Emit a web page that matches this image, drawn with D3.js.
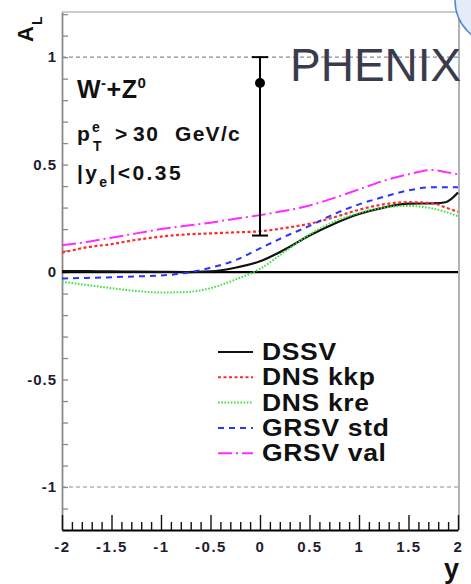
<!DOCTYPE html>
<html>
<head>
<meta charset="utf-8">
<script src="https://cdn.jsdelivr.net/npm/d3@7"></script>
<style>
  html, body { margin: 0; padding: 0; background: #fff; }
  svg { display: block; font-family: "Liberation Sans", Arial, Helvetica, sans-serif; }
</style>
</head>
<body>
<svg id="chart" width="471" height="584"></svg>
<script>
// Electron rapidity grid shared by every theory curve
const rapidity = [-2, -1.75, -1.5, -1.25, -1, -0.75, -0.5, -0.25, 0, 0.25, 0.5, 0.75, 1, 1.25, 1.5, 1.75, 1.875, 2];

// Predicted single-spin asymmetry A_L for each polarized PDF set
const dssv    = [0.005, 0.004, 0.003, 0.002, 0.001, 0.0, 0.003, 0.02, 0.05, 0.105, 0.17, 0.225, 0.27, 0.30, 0.318, 0.32, 0.325, 0.37];
const dnsKkp  = [0.09, 0.115, 0.13, 0.15, 0.165, 0.175, 0.18, 0.185, 0.19, 0.205, 0.225, 0.255, 0.29, 0.315, 0.325, 0.32, 0.30, 0.28];
const dnsKre  = [-0.045, -0.06, -0.075, -0.088, -0.095, -0.093, -0.075, -0.035, 0.015, 0.095, 0.175, 0.235, 0.275, 0.30, 0.308, 0.295, 0.28, 0.26];
const grsvStd = [-0.03, -0.027, -0.024, -0.02, -0.016, -0.004, 0.02, 0.055, 0.11, 0.165, 0.215, 0.27, 0.315, 0.35, 0.38, 0.395, 0.395, 0.395];
const grsvVal = [0.125, 0.14, 0.16, 0.18, 0.2, 0.215, 0.23, 0.248, 0.265, 0.285, 0.31, 0.345, 0.385, 0.425, 0.455, 0.475, 0.465, 0.455];

const seriesNames = ["DSSV", "DNS kkp", "DNS kre", "GRSV std", "GRSV val"];
const seriesValues = [dssv, dnsKkp, dnsKre, grsvStd, grsvVal];

// Measured W-+Z0 point at mid-rapidity
const measY = [0];
const measAL = [0.88];
const measErrLow = [0.71];
const measErrHigh = [0.12];

// Axis tick labels
const xTickLabels = [-2, -1.5, -1, -0.5, 0, 0.5, 1, 1.5, 2];
const yTickLabels = [-1, -0.5, 0, 0.5, 1];

// Line styling per curve
const styles = [
  { color: "#111111", dash: null,        width: 2.2 },
  { color: "#ff2a2a", dash: "3,2.5",     width: 2.2 },
  { color: "#3ee03e", dash: "1.6,1.6",   width: 2.0 },
  { color: "#2a34ff", dash: "6,5",       width: 2.0 },
  { color: "#ff2cff", dash: "14,4,2,4",  width: 2.0 }
];

const svg = d3.select("#chart");
svg.append("rect").attr("width", 471).attr("height", 584).attr("fill", "#fff");

const plotLeft = 62, plotRight = 458, plotTop = 12, plotBottom = 530;
const x = d3.scaleLinear().domain([-2, 2]).range([plotLeft, plotRight]);
const y = d3.scaleLinear().domain([-1.2, 1.21]).range([plotBottom, plotTop]);

// Widen a text element's glyphs by a factor (wide ROOT-style lettering)
function widen(sel, factor) {
  sel.each(function () {
    const w = this.getComputedTextLength();
    d3.select(this).attr("textLength", w * factor).attr("lengthAdjust", "spacingAndGlyphs");
  });
}

// Frame: top and right edges
svg.append("line").attr("x1", plotLeft).attr("x2", plotRight + 1).attr("y1", plotTop).attr("y2", plotTop)
  .attr("stroke", "#9a9a9a").attr("stroke-width", 1.2);
svg.append("line").attr("x1", plotRight + 1).attr("x2", plotRight + 1).attr("y1", plotTop).attr("y2", plotBottom)
  .attr("stroke", "#9a9a9a").attr("stroke-width", 1.5);

// Dashed reference lines at the physical limits +-1
[1, -1].forEach(v => {
  svg.append("line").attr("x1", plotLeft).attr("x2", plotRight).attr("y1", y(v)).attr("y2", y(v))
    .attr("stroke", "#8c8c8c").attr("stroke-width", 1.2).attr("stroke-dasharray", "4,3");
});

// Y axis: inward ticks every 0.1, labels every 0.5
const yMinor = d3.range(-12, 13).map(i => i / 10);
const isHalf = d => Math.abs(d * 2 - Math.round(d * 2)) < 1e-9;
const yAxis = d3.axisLeft(y).tickValues(yMinor).tickSizeInner(-6).tickSizeOuter(0).tickPadding(5)
  .tickFormat(d => yTickLabels.some(v => Math.abs(v - d) < 1e-9) ? String(d) : "");
const gy = svg.append("g").attr("transform", `translate(${plotLeft},0)`).call(yAxis);
gy.select(".domain").attr("stroke", "#8a8a8a").attr("stroke-width", 1.8);
gy.selectAll(".tick line").attr("stroke", "#8a8a8a").attr("stroke-width", 1.3);
gy.selectAll(".tick text").attr("fill", "#1e1e30").attr("font-size", 15).attr("font-weight", "bold")
  .attr("letter-spacing", 1).attr("font-family", "Liberation Sans, Arial, sans-serif");

// X axis: upward ticks every 0.1, longer every 0.5
const xMinor = d3.range(-20, 21).map(i => i / 10);
const xAxis = d3.axisBottom(x).tickValues(xMinor).tickSizeInner(-8).tickSizeOuter(0).tickPadding(11)
  .tickFormat(d => xTickLabels.some(v => Math.abs(v - d) < 1e-9) ? String(d) : "");
const gx = svg.append("g").attr("transform", `translate(0,${plotBottom})`).call(xAxis);
gx.select(".domain").attr("stroke", "#000").attr("stroke-width", 2.2);
gx.selectAll(".tick line").attr("stroke", "#111").attr("stroke-width", 1.4)
  .attr("y2", d => isHalf(d) ? -15 : -8);
gx.selectAll(".tick text").attr("fill", "#1e1e30").attr("font-size", 15).attr("font-weight", "bold")
  .attr("letter-spacing", 1.5).attr("font-family", "Liberation Sans, Arial, sans-serif");

// Zero line
svg.append("line").attr("x1", plotLeft).attr("x2", plotRight).attr("y1", y(0)).attr("y2", y(0))
  .attr("stroke", "#000").attr("stroke-width", 2.3);

// Theory curves
const line = d3.line().x(d => x(d[0])).y(d => y(d[1])).curve(d3.curveMonotoneX);
seriesValues.forEach((vals, i) => {
  const pts = rapidity.map((r, k) => [r, vals[k]]);
  svg.append("path").datum(pts).attr("d", line).attr("fill", "none")
    .attr("stroke", styles[i].color).attr("stroke-width", styles[i].width)
    .attr("stroke-dasharray", styles[i].dash);
});

// Data point with asymmetric error bar
measY.forEach((r, i) => {
  const cx = x(r);
  const yLo = y(measAL[i] - measErrLow[i]), yHi = y(measAL[i] + measErrHigh[i]);
  const g = svg.append("g").attr("stroke", "#000").attr("stroke-width", 2);
  g.append("line").attr("x1", cx).attr("x2", cx).attr("y1", yLo).attr("y2", yHi);
  g.append("line").attr("x1", cx - 8).attr("x2", cx + 8).attr("y1", yLo).attr("y2", yLo);
  g.append("line").attr("x1", cx - 8).attr("x2", cx + 8).attr("y1", yHi).attr("y2", yHi);
  svg.append("circle").attr("cx", cx).attr("cy", y(measAL[i])).attr("r", 5).attr("fill", "#000");
});

// Legend
const legend = svg.append("g");
seriesNames.forEach((name, i) => {
  const cy = 352 + i * 25.3;
  legend.append("line").attr("x1", 218).attr("x2", 253).attr("y1", cy).attr("y2", cy)
    .attr("stroke", styles[i].color).attr("stroke-width", 2)
    .attr("stroke-dasharray", styles[i].dash);
  const t = legend.append("text").attr("x", 262).attr("y", cy + 8).text(name)
    .attr("font-size", 23).attr("font-weight", "bold").attr("letter-spacing", 0.6).attr("fill", "#111");
  widen(t, 1.15);
});

// Process and kinematic cuts
const t1 = svg.append("text").attr("x", 77).attr("y", 98).attr("font-size", 25)
  .attr("font-weight", "bold").attr("fill", "#111").attr("letter-spacing", 0.5);
t1.append("tspan").text("W");
t1.append("tspan").text("-").attr("font-size", 15).attr("dy", -10);
t1.append("tspan").text("+Z").attr("dy", 10);
t1.append("tspan").text("0").attr("font-size", 15).attr("dy", -10);

const t2 = svg.append("text").attr("x", 77).attr("y", 141).attr("font-size", 21)
  .attr("font-weight", "bold").attr("fill", "#111");
t2.append("tspan").text("p");
t2.append("tspan").text("e").attr("font-size", 14).attr("x", 92).attr("dy", -9);
t2.append("tspan").text("T").attr("font-size", 14).attr("x", 93).attr("dy", 19);
t2.append("tspan").text(">").attr("x", 115).attr("dy", -10);
t2.append("tspan").text("30").attr("x", 133).attr("letter-spacing", 1.5);
t2.append("tspan").text("GeV/c").attr("x", 175).attr("letter-spacing", 1.3);

const t3 = svg.append("text").attr("x", 77).attr("y", 180).attr("font-size", 21)
  .attr("font-weight", "bold").attr("fill", "#111").attr("letter-spacing", 2.4);
t3.append("tspan").text("|y");
t3.append("tspan").text("e").attr("font-size", 14).attr("dy", 7);
t3.append("tspan").text("|<0.35").attr("dy", -7);

// Experiment tag
svg.append("text").attr("x", 290).attr("y", 81).text("PHENIX")
  .attr("font-size", 46).attr("fill", "#3b3b4d");

// Axis titles
const yt = svg.append("text").attr("transform", "translate(33,42) rotate(-90)")
  .attr("font-size", 22).attr("font-weight", "bold").attr("fill", "#111");
yt.append("tspan").text("A");
yt.append("tspan").text("L").attr("font-size", 14).attr("dy", 9).attr("dx", 1);

svg.append("text").attr("x", 444).attr("y", 578).text("y")
  .attr("font-size", 27).attr("font-weight", "bold").attr("fill", "#111");

// Corner badge
svg.append("circle").attr("cx", 500).attr("cy", 0).attr("r", 45)
  .attr("fill", "#e3ecf8").attr("stroke", "#4f86cf").attr("stroke-width", 1.5);
</script>
</body>
</html>
